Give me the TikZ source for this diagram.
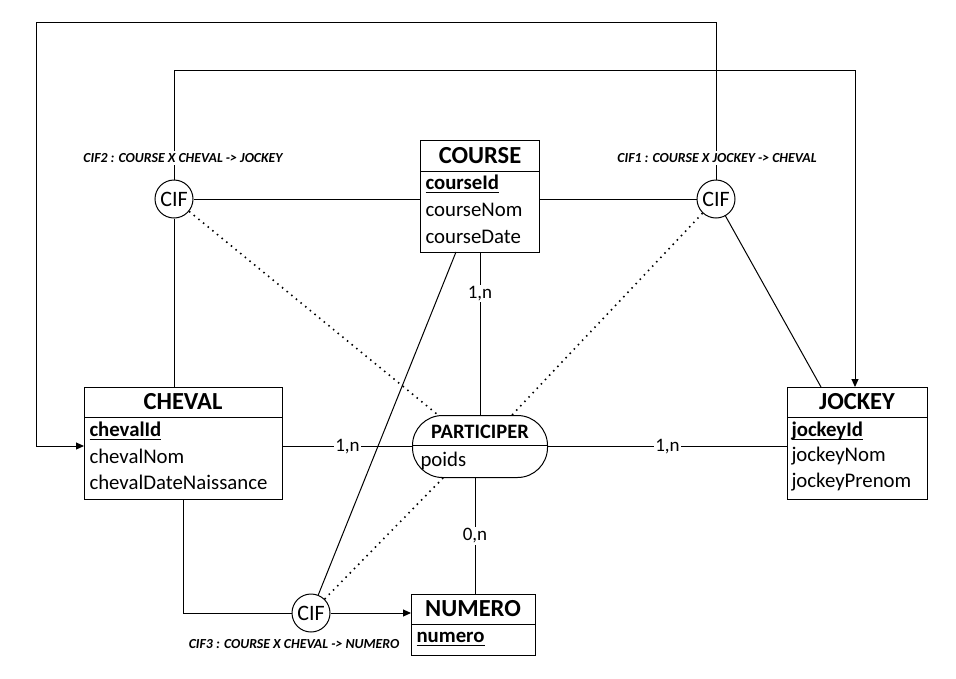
\documentclass[tikz,border=0pt]{standalone}
\usepackage{fontspec}
\setmainfont{Carlito}
\usetikzlibrary{arrows.meta,calc}
\newcommand\keyu[1]{\setbox0\hbox{\bfseries #1}\rlap{\rule[-4pt]{\wd0}{1.6pt}}\box0}
\begin{document}
\begin{tikzpicture}[x=1pt,y=-1pt, line width=1pt,
 ent/.style={draw, line width=1pt, inner sep=0pt, anchor=north west},
 ttl/.style={font=\fontsize{24.5}{27}\selectfont\bfseries, inner sep=0pt},
 attr/.style={font=\fontsize{20.8}{24}\selectfont, inner sep=0pt, anchor=west},
 cif/.style={draw, circle, minimum size=38pt, inner sep=0pt, font=\fontsize{22}{24}\selectfont, fill=white},
 cifl/.style={font=\fontsize{13.8}{15}\selectfont\bfseries\itshape, fill=white, inner sep=2pt},
 card/.style={fill=white, font=\fontsize{19}{22}\selectfont, inner sep=1.5pt},
 dot/.style={dash pattern=on 1.5pt off 4.5pt, line width=1.6pt},
 arr/.style={-{Triangle[length=8pt,width=7pt]}}
]
\useasboundingbox (0,0) rectangle (956,678);

% entities
\node[ent, minimum width=119pt, minimum height=112pt] (course) at (420,140) {};
\node[ent, minimum width=198pt, minimum height=112pt] (cheval) at (84,387) {};
\node[ent, minimum width=140pt, minimum height=112pt] (jockey) at (787,387) {};
\node[ent, minimum width=124pt, minimum height=61pt] (numero) at (411,594) {};
\node[ent, minimum width=135pt, minimum height=62pt, rounded corners=30pt] (part) at (412,415) {};

\draw (course.north west |- 0,171) -- (course.north east |- 0,171);
\draw (cheval.north west |- 0,417) -- (cheval.north east |- 0,417);
\draw (jockey.north west |- 0,417) -- (jockey.north east |- 0,417);
\draw (numero.north west |- 0,624) -- (numero.north east |- 0,624);
\draw (part.west |- 0,445) -- (part.east |- 0,445);

\node[ttl] (courseT) at (480,156) {COURSE};
\node[ttl] (chevalT) at (183,402) {CHEVAL};
\node[ttl] (jockeyT) at (857,402) {JOCKEY};
\node[ttl] (numeroT) at (473,609) {NUMERO};
\node[ttl, font=\fontsize{20.5}{24}\selectfont\bfseries] (partT) at (480,432) {PARTICIPER};

\node[attr] (ca1) at (425,184) {\keyu{courseId}};
\node[attr] (ca2) at (425,210) {courseNom};
\node[attr] (ca3) at (425,237) {courseDate};
\node[attr] (ha1) at (89,431) {\keyu{chevalId}};
\node[attr] (ha2) at (89,456) {chevalNom};
\node[attr] (ha3) at (89,482) {chevalDateNaissance};
\node[attr] (ja1) at (791,431) {\keyu{jockeyId}};
\node[attr] (ja2) at (791,456) {jockeyNom};
\node[attr] (ja3) at (791,482) {jockeyPrenom};
\node[attr] (na1) at (416,639) {\keyu{numero}};
\node[attr] (pa1) at (420,461) {poids};

% CIF nodes
\node[cif] (cif2) at (174,199) {CIF};
\node[cif] (cif1) at (716,199) {CIF};
\node[cif] (cif3) at (311,613) {CIF};

% coordinates
\coordinate (t2) at (855,70);
\coordinate (t1) at (36,22);
\coordinate (t1b) at (36,446);
\coordinate (pn) at (475,0);
\coordinate (j1) at (821,387);
\coordinate (c3) at (456,252);
\coordinate (pd2) at (438,415);
\coordinate (pd1) at (512,415);
\coordinate (pd3) at (444,477);

% association links
\draw (course.south) -- node[card, pos=0.25] {1,n} (part.north);
\draw (part.west -| cheval.east) -- node[card, pos=0.5] {1,n} (part.west);
\draw (part.east) -- node[card, pos=0.5] {1,n} (part.east -| jockey.west);
\draw (part.south -| pn) -- node[card, pos=0.5] {0,n} (numero.north -| pn);

% CIF links
\draw (cif2.east) -- (cif2.east -| course.west);
\draw (cif1.west) -- (cif1.west -| course.east);
\draw (cif2.south) -- (cif2.south |- cheval.north);
\draw[arr] (cif2.north) -- (cif2.north |- t2) -- (t2) -- (t2 |- jockey.north);
\draw[arr] (cif1.north) -- (cif1.north |- t1) -- (t1) -- (t1b) -- (t1b -| cheval.west);
\draw (cif1) -- (j1);
\draw (cheval.south) |- (cif3.west);
\draw[arr] (cif3.east) -- (cif3.east -| numero.west);
\draw (cif3) -- (c3);

\draw[dot] (cif2) -- (pd2);
\draw[dot] (cif1) -- (pd1);
\draw[dot] (cif3) -- (pd3);

% CIF labels
\node[cifl] (l2) at (183,158) {CIF2 : COURSE X CHEVAL -> JOCKEY};
\node[cifl] (l1) at (717,158) {CIF1 : COURSE X JOCKEY -> CHEVAL};
\node[cifl] (l3) at (294,644) {CIF3 : COURSE X CHEVAL -> NUMERO};
\end{tikzpicture}
\end{document}
